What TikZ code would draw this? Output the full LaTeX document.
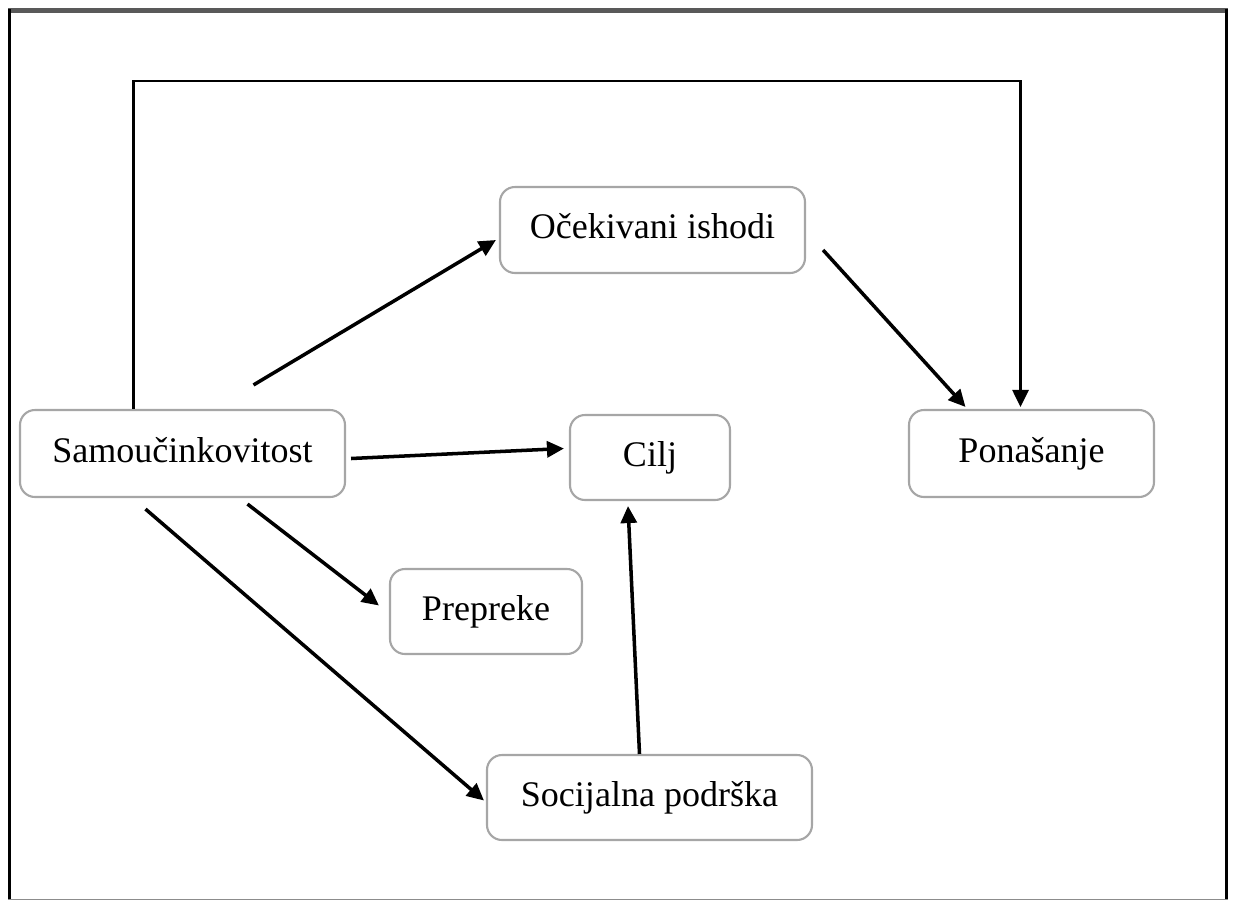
\documentclass[tikz,border=0pt]{standalone}
\usepackage{fontspec}
\setmainfont{Liberation Serif}
\usepackage{tikz}
\usetikzlibrary{calc}
\usetikzlibrary{positioning}
\usetikzlibrary{arrows.meta}

\tikzset{
  box/.style={draw=black!35,line width=1.2pt,rounded corners=0.3cm,
    fill=white,inner sep=0pt,text height=10pt,text depth=0pt,
    font=\fontsize{20.5}{24}\selectfont},
  arr/.style={line width=2pt,-{Triangle[length=0.34cm,width=0.32cm]}}
}

\begin{document}
\begin{tikzpicture}
        \useasboundingbox (0,0) rectangle (24.7,-18);
        \draw[line width=0.1cm,black!65] (0.16,-0.21) -- (24.56,-0.21);
        \draw[line width=0.06cm] (0.19,-0.18) -- (0.19,-18);
        \draw[line width=0.06cm] (24.53,-0.18) -- (24.53,-18);
        \draw[line width=0.02cm,black!45] (0.16,-17.98) -- (24.56,-17.98);

        \node[box,minimum width=6.5cm,minimum height=1.74cm] (samo) at (3.65,-9.07) {Samoučinkovitost};
        \node[box,minimum width=6.1cm,minimum height=1.72cm] (ocek) at (13.05,-4.6) {Očekivani ishodi};
        \node[box,minimum width=3.2cm,minimum height=1.7cm] (cilj) at (13.0,-9.15) {Cilj};
        \node[box,minimum width=4.9cm,minimum height=1.74cm] (pona) at (20.63,-9.07) {Ponašanje};
        \node[box,minimum width=3.84cm,minimum height=1.7cm] (prep) at (9.72,-12.23) {Prepreke};
        \node[box,minimum width=6.5cm,minimum height=1.7cm] (soc) at (12.99,-15.95) {Socijalna podrška};

        \draw[line width=1.6pt,-{Triangle[length=0.34cm,width=0.32cm]}]
          ([xshift=-0.98cm]samo.north) -- ++(0,6.56) -| ([xshift=-0.22cm,yshift=0.04cm]pona.north);
        \draw[arr] ([shift={(1.42,0.48)}]samo.north) -- ([shift={(-0.06,-0.2)}]ocek.west);
        \draw[arr] ([shift={(0.1,-0.1)}]samo.east) -- ([shift={(-0.1,0.18)}]cilj.west);
        \draw[arr] ([shift={(1.3,-0.12)}]samo.south) -- ([shift={(-0.2,0.12)}]prep.west);
        \draw[arr] ([shift={(-0.74,-0.22)}]samo.south) -- ([shift={(-0.04,-0.06)}]soc.west);
        \draw[arr] ([shift={(0.34,-0.4)}]ocek.east) -- ([shift={(-1.32,0.04)}]pona.north);
        \draw[arr] ([shift={(-0.2,0)}]soc.north) -- ([shift={(-0.44,-0.1)}]cilj.south);
      \end{tikzpicture}
\end{document}
